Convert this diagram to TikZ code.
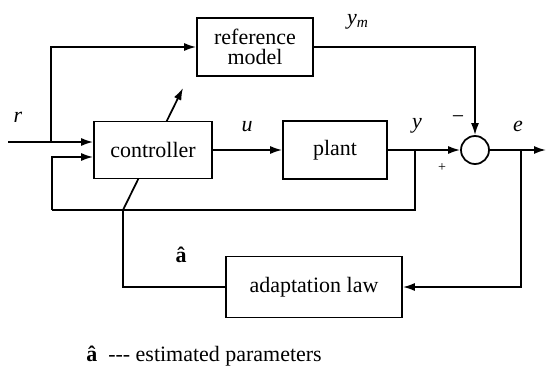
\documentclass[tikz,border=0pt]{standalone}
\usepackage{fontspec}
\setmainfont{Liberation Serif}
\usetikzlibrary{arrows.meta, calc}

\begin{document}
\begin{tikzpicture}[
    x=0.02cm, y=-0.02cm,
    font=\fontsize{12.5}{14}\selectfont,
    % Define styles for reusable components
    block/.style={draw, line width=1pt, fill=white, align=center, inner sep=1pt},
    sumnode/.style={draw, line width=1pt, circle, fill=white, minimum size=0.56cm, inner sep=0pt},
    sig/.style={line width=1pt, -{Latex[length=2.4mm, width=1.6mm]}},
    wire/.style={line width=1pt},
    lbl/.style={inner sep=0pt}
]
    \useasboundingbox (0,0) rectangle (547,368);

    % --- TUNING ARROW (drawn first, the controller covers it) ---
    \coordinate (tiltA) at (123,210);
    \coordinate (tiltB) at (183,88);
    \draw[sig] (tiltA) -- (tiltB);

    % --- BLOCKS ---
    \node[block, minimum width=2.36cm, minimum height=1.14cm] (ctrl) at (153,150) {controller};
    \node[block, minimum width=2.08cm, minimum height=1.16cm] (plant) at (335,150) {plant};
    \node[block, minimum width=2.32cm, minimum height=1.16cm] (refm) at (255,47) {reference\\[-3pt]model};
    \node[block, minimum width=3.52cm, minimum height=1.22cm] (adapt) at (314,287) {adaptation law};
    \node[sumnode] (sum) at (475,150) {};

    % --- INPUT r ---
    \coordinate (rin) at (8,142);
    \coordinate (rsplit) at (51,142);
    \draw[sig] (rin) -- (rin -| ctrl.west);
    \draw[sig] (rsplit) |- (refm.west);
    \node[lbl] (rlab) at (18,117) {\textit{r}};

    % --- FORWARD PATH ---
    \draw[sig] (ctrl) -- (plant);
    \node[lbl] (ulab) at (247,127) {\textit{u}};
    \draw[sig] (plant) -- (sum);
    \node[lbl] (ylab) at (417,126) {\textit{y}};
    \node[lbl, font=\fontsize{8}{9}\selectfont] (plus) at (442,168) {+};
    \draw[sig] (refm.east) -| (sum.north);
    \node[lbl] (ymlab) at (358,22) {\textit{y}\textsubscript{\textit{m}}};
    \node[lbl] (minus) at (458,120) {−};
    \coordinate (eout) at (546,150);
    \draw[sig] (sum) -- (eout);
    \node[lbl] (elab) at (518,126) {\textit{e}};

    % --- FEEDBACK OF y ---
    \coordinate (ysplit) at (415,150);
    \coordinate (fbl) at (52,210);
    \draw[wire] (ysplit) -- (ysplit |- fbl) -- (fbl);
    \draw[sig] (fbl) |- ([yshift=-0.14cm]ctrl.west);

    % --- ADAPTATION LOOP ---
    \coordinate (esplit) at (521,150);
    \draw[sig] (esplit) |- (adapt.east);
    \draw[wire] (adapt.west) -| (tiltA);
    \node[lbl] (ahat) at (181,255) {\textbf{â}};

    % --- LEGEND ---
    \node[lbl, anchor=west] (legend) at (86,356) {\textbf{â}\ \ {-}{-}{-} estimated parameters};

\end{tikzpicture}
\end{document}
